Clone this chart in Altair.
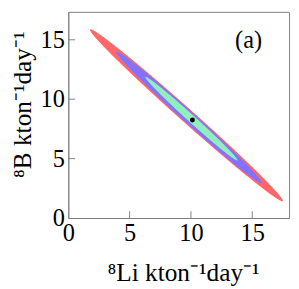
import numpy as np
import pandas as pd
import altair as alt

# ---- data ----
x_domain = [0, 18]
y_domain = [0, 17.35]
tick_values = [0, 5, 10, 15]
inner_ticks = [5, 10, 15]

# confidence regions (outer to inner): centre, semi-axes, tilt
region_names = ["outer", "middle", "inner"]
center_x = [9.63, 9.84, 10.04]
center_y = [8.65, 8.47, 8.36]
semi_major = [10.68, 8.10, 5.14]
semi_minor = [0.56, 0.48, 0.30]
angle_deg = [-42.6, -42.95, -43.1]
region_colors = ["#ff6868", "#8272ff", "#92eebc"]

best_x = [10.12]
best_y = [8.25]

panel_label = ["(a)"]
panel_label_x = [14.7]
panel_label_y = [14.94]

x_title = "⁸Li kton⁻¹day⁻¹"
y_title = "⁸B kton⁻¹day⁻¹"

W, H = 227, 212
SERIF = "Liberation Serif"


def ellipse_band(cx, cy, a, b, deg, n=400):
    t = np.deg2rad(deg)
    c, s = np.cos(t), np.sin(t)
    half = np.sqrt(a * a * c * c + b * b * s * s)
    u = np.linspace(0, np.pi, n)
    dx = -half * np.cos(u)
    A = s * s / a**2 + c * c / b**2
    B = 2 * dx * c * s * (1 / a**2 - 1 / b**2)
    C = dx**2 * (c * c / a**2 + s * s / b**2) - 1
    disc = np.clip(B * B - 4 * A * C, 0, None)
    r1 = (-B - np.sqrt(disc)) / (2 * A)
    r2 = (-B + np.sqrt(disc)) / (2 * A)
    return pd.DataFrame({"x": cx + dx, "y": cy + np.minimum(r1, r2), "y2": cy + np.maximum(r1, r2)})


X = alt.X(
    "x:Q",
    scale=alt.Scale(domain=x_domain, nice=False, zero=False),
    axis=alt.Axis(
        values=tick_values, labelPadding=3, labelFlush=False, labelOverlap=False,
        titleX=118, titleY=64, titleBaseline="alphabetic", titleAlign="center",
    ),
    title=x_title,
)
Y = alt.Y(
    "y:Q",
    scale=alt.Scale(domain=y_domain, nice=False, zero=False),
    axis=alt.Axis(
        values=tick_values, labelPadding=4, labelFlush=False, labelOverlap=False,
        titleX=-39, titleY=95, titleAngle=270, titleBaseline="alphabetic", titleAlign="center",
    ),
    title=y_title,
)

layers = []
for i, name in enumerate(region_names):
    df = ellipse_band(center_x[i], center_y[i], semi_major[i], semi_minor[i], angle_deg[i])
    layers.append(
        alt.Chart(df).mark_area(color=region_colors[i], opacity=1).encode(x=X, y=Y, y2="y2:Q")
    )

dot = alt.Chart(pd.DataFrame({"x": best_x, "y": best_y})).mark_circle(
    color="black", size=26, opacity=1
).encode(x=X, y=Y)

label = alt.Chart(
    pd.DataFrame({"x": panel_label_x, "y": panel_label_y, "t": panel_label})
).mark_text(font=SERIF, fontSize=25, color="black", align="center", baseline="middle").encode(
    x=X, y=Y, text="t:N"
)

xt = alt.Chart(pd.DataFrame({"x": inner_ticks})).mark_rule(color="#808080").encode(
    x=X, y=alt.value(H), y2=alt.value(H - 7)
)
yt = alt.Chart(pd.DataFrame({"y": inner_ticks})).mark_rule(color="#808080").encode(
    y=Y, x=alt.value(0), x2=alt.value(7)
)

chart = (
    alt.layer(*layers, dot, xt, yt, label)
    .properties(
        width=W, height=H,
        autosize=alt.AutoSizeParams(type="none"),
        padding={"left": 62, "top": 0, "right": 2, "bottom": 69},
    )
    .configure_view(stroke="#808080", strokeWidth=1)
    .configure_axis(
        grid=False, ticks=False, domainColor="#808080",
        labelFont=SERIF, labelFontSize=25, labelColor="black",
        titleFont=SERIF, titleFontSize=26, titleFontWeight="normal", titleColor="black",
    )
)

chart.save("out.html", embed_options={"renderer": "svg", "actions": False})
